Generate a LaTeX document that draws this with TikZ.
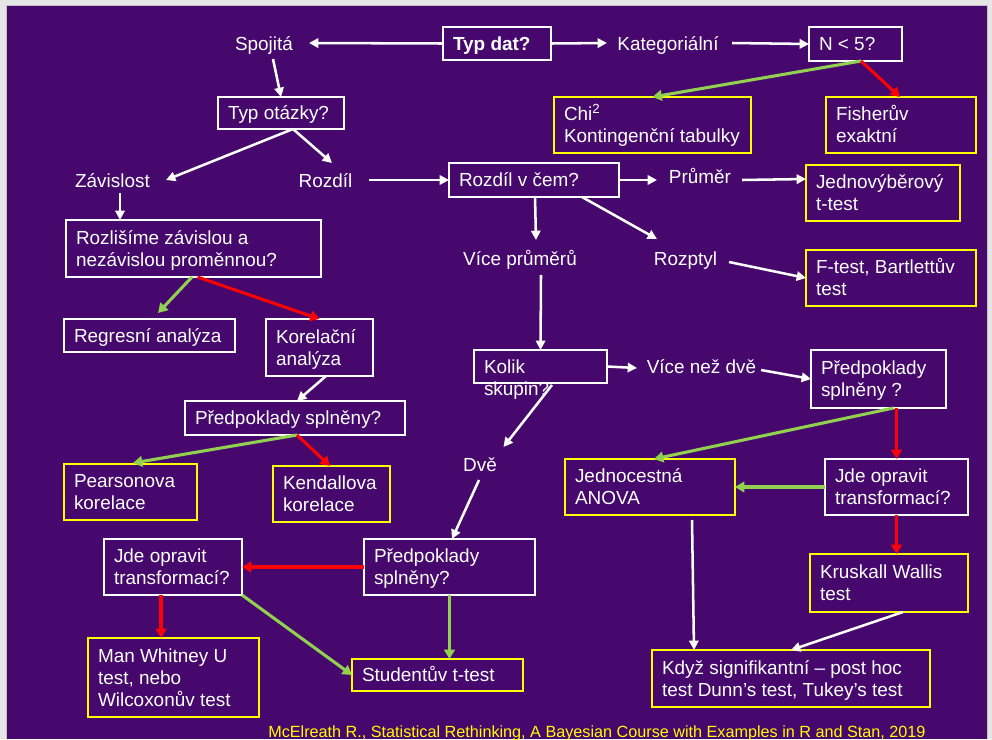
\documentclass[tikz,border=0pt]{standalone}
\usepackage{fontspec}
\setmainfont{Liberation Sans}
\usetikzlibrary{arrows.meta,calc}
\definecolor{purp}{HTML}{46086C}
\definecolor{bggray}{HTML}{E6E6E6}
\definecolor{edgegray}{HTML}{C4C4C4}
\definecolor{arrgreen}{HTML}{92D050}
\definecolor{arrred}{HTML}{FF0000}
\definecolor{boxyellow}{HTML}{FFFF00}
\newdimen\px \px=0.75pt
\newcommand\dgfont{\fontsize{14.2pt}{16.5pt}\selectfont}
\newcommand\bx[7]{%
 \pgfmathsetlengthmacro\bxw{(#5-#3)*\px}%
 \pgfmathsetlengthmacro\bxh{(#6-#4)*\px}%
 \pgfmathsetlengthmacro\bxt{(#5-#3-20)*\px}%
 \node[#1, minimum width=\bxw, minimum height=\bxh] (#2) at ({(#3+#5)/2},{(#4+#6)/2})
 {\makebox[\bxt][l]{\begin{tabular}{@{}l@{}}\rule{0pt}{15.15pt}#7\end{tabular}}};}
\tikzset{
 wbox/.style={draw=white, line width=1pt, text=white, inner xsep=7.5pt, inner ysep=0pt, outer sep=0pt, font=\dgfont},
 ybox/.style={wbox, draw=boxyellow},
 txt/.style={text=white, inner sep=0pt, outer sep=0pt, font=\dgfont},
 warr/.style={draw=white, line width=1.9pt, -{Triangle[length=7pt,width=7pt]}},
 garr/.style={draw=arrgreen, line width=2.3pt, -{Triangle[length=7pt,width=8pt]}},
 rarr/.style={garr, draw=arrred},
}
\begin{document}
\begin{tikzpicture}[x=0.75pt, y=-0.75pt]
\useasboundingbox (0,0) rectangle (992,739);
\fill[bggray] (0,0) rectangle (992,739);
\fill[purp] (7,6) rectangle (987,739);
\draw[edgegray, line width=0.8pt] (6.5,739) -- (6.5,5.5) -- (987.5,5.5) -- (987.5,739);

% boxes
\bx{wbox}{typdat}{443}{27}{551}{60}{\bfseries Typ dat?}
\bx{wbox}{n5}{809}{27}{902}{61}{N < 5?}
\bx{ybox}{chi}{554}{97}{751}{153}{Chi\textsuperscript{2}\\Kontingenční tabulky}
\bx{ybox}{fisher}{826}{97}{976}{153}{Fisherův\\exaktní}
\bx{wbox}{typotazky}{218}{97}{344}{129}{Typ otázky?}
\bx{wbox}{rozdilvcem}{449}{163}{619}{197}{Rozdíl v čem?}
\bx{ybox}{jednov}{806}{165}{960}{221}{Jednovýběrový\\t-test}
\bx{wbox}{rozlisime}{66}{220}{321}{277}{Rozlišíme závislou a\\nezávislou proměnnou?}
\bx{ybox}{ftest}{806}{250}{976}{306}{F-test, Bartlettův\\test}
\bx{wbox}{regresni}{64}{319}{235}{352}{Regresní analýza}
\bx{wbox}{korelacni}{266}{319}{373}{376}{Korelační\\analýza}
\bx{wbox}{predpL}{185}{401}{405}{435}{Předpoklady splněny?}
\bx{ybox}{pearson}{64}{464}{197}{520}{Pearsonova\\korelace}
\bx{ybox}{kendall}{273}{466}{390}{522}{Kendallova\\korelace}
\bx{wbox}{kolik}{474}{350}{607}{383}{Kolik}
\bx{wbox}{predpR}{811}{350}{946}{408}{Předpoklady\\splněny ?}
\bx{wbox}{predpM}{364}{539}{535}{595}{Předpoklady\\splněny?}
\bx{wbox}{jdeL}{104}{539}{242}{595}{Jde opravit\\transformací?}
\bx{ybox}{manw}{88}{638}{259}{717}{Man Whitney U\\test, nebo\\Wilcoxonův test}
\bx{ybox}{student}{352}{659}{523}{691}{Studentův t-test}
\bx{ybox}{jednocest}{565}{459}{735}{515}{Jednocestná\\ANOVA}
\bx{wbox}{jdeR}{825}{459}{968}{515}{Jde opravit\\transformací?}
\bx{ybox}{kruskall}{810}{554}{968}{612}{Kruskall Wallis\\test}
\bx{ybox}{kdyz}{652}{650}{930}{707}{Když signifikantní – post hoc\\test Dunn’s test, Tukey’s test}

% plain texts
\node[txt, anchor=base] (spojita) at (264,50) {Spojitá};
\node[txt, anchor=base] (kateg) at (668,50) {Kategoriální};
\node[txt, anchor=base] (zavislost) at (112.5,187) {Závislost};
\node[txt, anchor=base] (rozdil) at (325.5,187) {Rozdíl};
\node[txt, anchor=base] (prumer) at (700,183) {Průměr};
\node[txt, anchor=base] (vicepr) at (520,265) {Více průměrů};
\node[txt, anchor=base] (rozptyl) at (685.5,265) {Rozptyl};
\node[txt, anchor=base] (vicenez) at (701.5,373) {Více než dvě};
\node[txt, anchor=base] (dve) at (480,471) {Dvě};
\node[txt, anchor=base west] (skupin) at ([shift={(10,12)}]kolik.south west) {skupin?};
\node[anchor=base west, text=boxyellow, inner sep=0pt, font=\fontsize{12.15pt}{14pt}\selectfont] (cite) at (268,737) {McElreath R., Statistical Rethinking, A Bayesian Course with Examples in R and Stan, 2019};

% connectors
\draw[warr] (typdat.west) -- ([shift={(45,-7)}]spojita.base);
\draw[warr] (typdat.east) -- ([shift={(-61,-7)}]kateg.base);
\draw[warr] ([shift={(64,-7)}]kateg.base) -- (n5.west);
\draw[garr] ([shift={(5.5,0)}]n5.south) -- (chi.north);
\draw[rarr] ([shift={(5.5,0)}]n5.south) -- ([shift={(-1,0)}]fisher.north);
\draw[warr] ([shift={(9,9)}]spojita.base) -- (typotazky.north);
\draw[warr] ([shift={(12,0)}]typotazky.south) -- ([shift={(53.5,-7)}]zavislost.base);
\draw[warr] ([shift={(12,0)}]typotazky.south) -- ([shift={(6.5,-24)}]rozdil.base);
\draw[warr] ([shift={(43.5,-7)}]rozdil.base) -- (rozdilvcem.west);
\draw[warr] (rozdilvcem.east) -- ([shift={(-43,-3)}]prumer.base);
\draw[warr] ([shift={(42,-3)}]prumer.base) -- ([shift={(0,-14)}]jednov.west);
\draw[warr] ([shift={(1,0)}]rozdilvcem.south) -- ([shift={(16,-25)}]vicepr.base);
\draw[warr] ([shift={(48,0)}]rozdilvcem.south) -- ([shift={(-28.5,-26)}]rozptyl.base);
\draw[warr] ([shift={(43.5,-3)}]rozptyl.base) -- (ftest.west);
\draw[warr] ([shift={(7.5,6)}]zavislost.base) -- ([shift={(-73.5,0)}]rozlisime.north);
\draw[garr] ([shift={(-1.5,0)}]rozlisime.south) -- ([shift={(8.5,-6)}]regresni.north);
\draw[rarr] ([shift={(4,0)}]rozlisime.south) -- (korelacni.north);
\draw[warr] ([shift={(6.5,0)}]korelacni.south) -- ([shift={(2,0)}]predpL.north);
\draw[garr] ([shift={(2,0)}]predpL.south) -- ([shift={(2.5,-1)}]pearson.north);
\draw[rarr] ([shift={(2,0)}]predpL.south) -- ([shift={(-1.5,0)}]kendall.north);
\draw[warr] ([shift={(21,10)}]vicepr.base) -- (kolik.north);
\draw[warr] (kolik.east) -- ([shift={(-64.5,-5)}]vicenez.base);
\draw[warr] ([shift={(59.5,-3)}]vicenez.base) -- (predpR.west);
\draw[warr] ([shift={(11.5,2)}]kolik.south) -- ([shift={(23.5,-24)}]dve.base);
\draw[warr] ([shift={(-1,9)}]dve.base) -- ([shift={(2.5,0)}]predpM.north);
\draw[rarr] (predpM.west) -- (jdeL.east);
\draw[rarr] ([shift={(-12,0)}]jdeL.south) -- ([shift={(-12.5,0)}]manw.north);
\draw[garr] (jdeL.south east) -- (student.west);
\draw[garr] (predpM.south) -- ([shift={(12,0)}]student.north);
\draw[garr] ([shift={(15,0)}]predpR.south) -- ([shift={(4,0)}]jednocest.north);
\draw[rarr] ([shift={(18,0)}]predpR.south) -- (jdeR.north);
\draw[garr] (jdeR.west) -- (jednocest.east);
\draw[rarr] (jdeR.south) -- ([shift={(7.5,0)}]kruskall.north);
\draw[warr] ([shift={(42,5)}]jednocest.south) -- ([shift={(-97,0)}]kdyz.north);
\draw[warr] ([shift={(14,0)}]kruskall.south) -- (kdyz.north);
\end{tikzpicture}
\end{document}
